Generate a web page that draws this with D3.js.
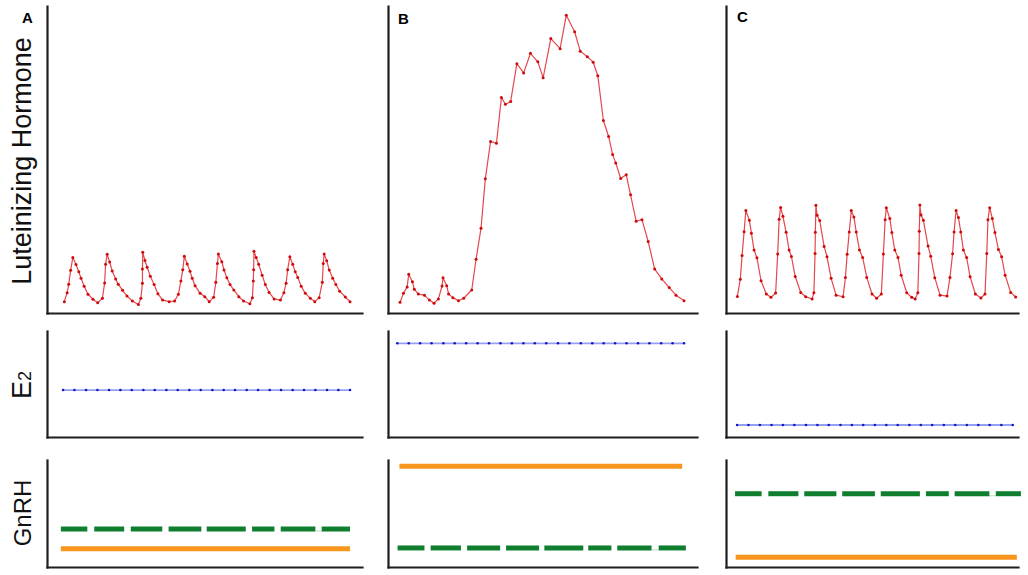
<!DOCTYPE html>
<html><head><meta charset="utf-8">
<script src="https://cdn.jsdelivr.net/npm/d3@7"></script>
<style>
html,body{margin:0;padding:0;background:#fff;}
svg{display:block;font-family:"Liberation Sans",Arial,Helvetica,sans-serif;}
</style></head>
<body>
<script>
// ---------- DATA (time in % of panel span, levels in arbitrary units 0-100) ----------
const panelNames = ["A", "B", "C"];
const rowLabels = ["Luteinizing Hormone", "E", "GnRH"];

const lhTimeA = [5.5,6.4,6.9,7.5,8.2,9.2,10.1,10.8,11.8,13.0,14.6,16.1,
 17.6,18.3,18.6,19.1,19.9,20.7,21.8,22.6,24.0,25.4,27.1,29.0,
 29.8,30.3,30.3,30.4,31.1,31.8,32.8,34.0,35.2,36.7,38.8,
 40.5,41.7,42.5,43.1,43.6,44.5,45.4,46.1,47.0,48.6,50.1,51.5,
 52.9,53.6,54.1,54.4,55.5,56.2,57.1,58.1,59.3,60.9,62.4,64.4,
 65.2,65.5,65.6,65.7,66.4,67.2,68.3,69.3,70.5,72.1,74.1,
 75.2,75.9,76.4,77.1,78.0,78.8,79.6,80.7,82.0,83.6,85.0,
 86.4,87.4,87.7,88.0,88.8,89.6,90.7,91.7,92.9,94.7,96.2];
const lhValueA = [3.7,6.6,9.4,13.9,18.1,15.8,13.4,11.3,8.7,6.1,4.5,3.3,
 4.8,9.8,15.9,19.1,16.6,13.7,11.1,9.4,7.4,5.5,3.9,2.8,
 4.8,9.7,14.3,19.8,17.1,14.9,12.0,9.3,6.3,4.2,3.7,
 3.9,6.1,10.4,14.1,18.5,16.0,13.6,11.3,8.9,6.4,5.3,3.7,
 5.1,10.0,16.1,19.2,16.7,14.0,11.5,9.3,7.5,5.3,3.9,3.0,
 5.0,10.4,14.1,20.1,18.1,15.9,12.3,9.3,6.7,4.6,4.2,
 6.6,9.7,14.1,18.3,15.9,13.4,11.6,8.7,6.4,4.8,3.7,
 5.0,10.0,16.1,19.2,17.0,14.0,11.3,9.3,7.1,5.2,3.7];

const lhTimeB = [3.9,5.0,6.2,6.7,7.9,8.5,9.8,11.8,13.4,14.9,
 16.3,17.5,17.8,19.0,19.6,21.0,22.8,24.5,27.1,28.5,
 30.1,31.5,33.2,35.1,36.7,38.0,39.7,41.7,43.9,46.1,
 48.5,50.2,52.7,55.7,57.7,60.4,62.2,64.5,66.4,67.9,
 69.7,71.4,72.7,73.7,75.3,77.1,78.5,80.3,82.2,84.2,
 86.3,88.6,91.0,93.2,95.8];
const lhValueB = [3.5,6.4,8.5,12.6,10.2,7.7,6.2,5.8,4.2,3.2,
 4.6,8.8,11.5,8.9,6.2,5.0,4.0,4.8,7.5,17.5,
 27.6,43.7,55.9,55.3,70.2,68.0,68.9,81.2,78.2,84.6,
 81.8,76.6,89.4,86.1,97.0,91.6,85.3,83.5,81.7,77.3,
 62.7,57.5,51.6,48.9,43.8,45.0,38.5,29.9,30.4,23.3,
 14.3,11.1,8.3,5.8,4.0];

const lhTimeC = [3.9,4.9,5.5,6.2,6.8,8.0,8.7,9.6,10.6,12.0,13.8,15.4,
 17.0,17.7,18.2,18.7,19.5,20.6,21.6,22.4,23.7,25.6,27.3,29.5,
 30.1,30.5,30.6,30.8,31.2,32.1,33.6,34.6,36.0,37.7,40.1,
 40.9,41.5,42.2,42.9,43.8,44.6,45.7,46.8,48.2,50.0,51.6,
 53.2,53.9,54.5,54.9,56.1,56.8,57.8,58.9,60.0,61.9,63.6,64.8,
 65.7,66.1,66.2,66.4,66.8,67.6,69.2,70.1,71.5,73.3,75.7,
 76.7,77.6,78.1,78.8,79.6,80.4,81.3,82.4,83.6,85.4,87.3,
 88.7,89.3,89.7,90.3,91.2,92.1,93.3,94.4,95.6,97.5,99.2];
const lhValueC = [5.4,11.0,18.7,26.5,33.4,30.2,26.0,20.5,18.0,10.5,6.2,5.1,
 6.5,19.2,30.5,34.4,31.5,26.3,20.5,18.4,11.9,6.7,5.3,4.6,
 6.6,19.4,26.3,35.1,31.8,30.1,21.7,18.3,11.3,5.8,5.3,
 11.6,19.1,26.4,33.4,31.3,26.4,20.5,18.1,11.6,6.2,4.8,
 6.2,19.2,30.4,34.3,30.8,26.2,20.5,18.1,12.3,6.6,5.1,4.6,
 6.6,19.4,26.6,35.2,31.9,30.2,21.8,18.5,11.5,5.8,5.5,
 11.6,19.3,26.4,33.4,31.1,26.4,20.5,18.1,11.8,6.2,4.9,
 6.2,19.4,30.4,34.3,30.8,26.2,20.7,18.3,12.3,6.7,5.2];

const e2TimeA = [5.1,8.7,12.4,16.0,19.7,23.3,26.9,30.6,34.2,37.9,41.5,45.2,48.8,
 52.5,56.1,59.7,63.4,67.0,70.7,74.3,78.0,81.6,85.2,88.9,92.5,96.2];
const e2TimeB = [3.0,6.7,10.4,14.1,17.9,21.6,25.3,29.0,32.7,36.4,40.1,43.8,47.5,
 51.2,55.0,58.7,62.4,66.1,69.8,73.5,77.2,80.9,84.6,88.4,92.1,95.8];
const e2TimeC = [3.8,7.7,11.6,15.6,19.5,23.4,27.4,31.3,35.2,39.2,43.1,47.0,
 51.0,54.9,58.8,62.8,66.7,70.6,74.6,78.5,82.5,86.4,90.3,94.3,98.2];
const e2Level = [44.3, 88.4, 11.3];

const orangeLevel = [17.1, 94.1, 9.1];
const orangeSpan = [[4.4, 96.2], [3.7, 95.2], [3.3, 99.6]];
const greenLevel = [35.5, 17.8, 68.5];
const greenSegA = [[4.4,12.8],[15.0,24.5],[26.6,36.6],[38.6,49.0],[50.7,63.1],[65.1,72.2],[74.2,85.2],[87.2,96.2]];
const greenSegB = [[3.1,11.8],[13.8,23.6],[25.6,36.3],[38.2,48.9],[50.6,63.2],[64.8,72.3],[74.2,85.3],[87.6,96.4]];
const greenSegC = [[3.1,12.2],[14.5,24.8],[26.8,37.8],[39.8,51.0],[53.0,66.4],[68.5,76.3],[78.3,90.2],[92.4,101.0]];
const greenFaint = [[85.2,87.2],[85.3,87.6],[90.2,92.4]];

// ---------- LAYOUT ----------
const W = 1028, H = 575;
const panelX = [[47, 362], [388, 697], [726, 1018]];
const rowY = {lh: [313, 6], e2: [437, 331], gn: [567, 460]};
const letterPos = [[22, 23], [398, 24], [737, 22]];

const lhT = [lhTimeA, lhTimeB, lhTimeC];
const lhV = [lhValueA, lhValueB, lhValueC];
const e2T = [e2TimeA, e2TimeB, e2TimeC];
const gSeg = [greenSegA, greenSegB, greenSegC];

const svg = d3.select("body").append("svg").attr("width", W).attr("height", H);
svg.append("rect").attr("width", W).attr("height", H).attr("fill", "#fff");

const RED_LINE = "#e5474c", RED_DOT = "#cf0a0a";
const BLUE_LINE = "#95a0ee", BLUE_DOT = "#1515c8";
const GREEN = "#0f7e2e", ORANGE = "#f7951c";

function drawAxes(g, x, y, xr, yr) {
  const ax = g.append("g").attr("transform", `translate(0,${yr[0]})`)
    .call(d3.axisBottom(x).tickValues([]).tickSizeOuter(0));
  const ay = g.append("g").attr("transform", `translate(${xr[0]},0)`)
    .call(d3.axisLeft(y).tickValues([]).tickSizeOuter(0));
  [ax, ay].forEach(a => a.select(".domain").attr("stroke", "#1e1e1e")
    .attr("stroke-width", 2.2).attr("stroke-linecap", "square"));
}

panelNames.forEach((name, i) => {
  const g = svg.append("g");
  const xr = panelX[i];
  const x = d3.scaleLinear().domain([0, 100]).range(xr);
  const yLH = d3.scaleLinear().domain([0, 100]).range(rowY.lh);
  const yE2 = d3.scaleLinear().domain([0, 100]).range(rowY.e2);
  const yGn = d3.scaleLinear().domain([0, 100]).range(rowY.gn);

  drawAxes(g, x, yLH, xr, rowY.lh);
  drawAxes(g, x, yE2, xr, rowY.e2);
  drawAxes(g, x, yGn, xr, rowY.gn);

  // LH
  const lh = lhT[i].map((t, k) => ({t, v: lhV[i][k]}));
  g.append("path").datum(lh)
    .attr("d", d3.line().x(d => x(d.t)).y(d => yLH(d.v)))
    .attr("fill", "none").attr("stroke", RED_LINE).attr("stroke-width", 1.2)
    .attr("stroke-linejoin", "round");
  g.selectAll(".lhdot").data(lh).enter().append("circle")
    .attr("cx", d => x(d.t)).attr("cy", d => yLH(d.v)).attr("r", 1.5)
    .attr("fill", RED_DOT);

  // E2
  const e2 = e2T[i].map(t => ({t, v: e2Level[i]}));
  g.append("path").datum(e2)
    .attr("d", d3.line().x(d => x(d.t)).y(d => yE2(d.v)))
    .attr("fill", "none").attr("stroke", BLUE_LINE).attr("stroke-width", 1.8);
  g.selectAll(".e2dot").data(e2).enter().append("circle")
    .attr("cx", d => x(d.t)).attr("cy", d => yE2(d.v)).attr("r", 1.3)
    .attr("fill", BLUE_DOT);

  // GnRH
  g.append("line")
    .attr("x1", x(orangeSpan[i][0])).attr("x2", x(orangeSpan[i][1]))
    .attr("y1", yGn(orangeLevel[i])).attr("y2", yGn(orangeLevel[i]))
    .attr("stroke", ORANGE).attr("stroke-width", 5);
  g.append("line")
    .attr("x1", x(greenFaint[i][0])).attr("x2", x(greenFaint[i][1]))
    .attr("y1", yGn(greenLevel[i]) + 2).attr("y2", yGn(greenLevel[i]) + 2)
    .attr("stroke", "#b9dcc0").attr("stroke-width", 1);
  g.selectAll(".gseg").data(gSeg[i]).enter().append("line")
    .attr("x1", d => x(d[0])).attr("x2", d => x(d[1]))
    .attr("y1", yGn(greenLevel[i])).attr("y2", yGn(greenLevel[i]))
    .attr("stroke", GREEN).attr("stroke-width", 5);

  // panel letter
  svg.append("text").attr("x", letterPos[i][0]).attr("y", letterPos[i][1])
    .attr("font-size", 15).attr("font-weight", "bold").attr("fill", "#000")
    .text(name);
});

// Row labels
svg.append("text")
  .attr("transform", "translate(31,161) rotate(-90)")
  .attr("text-anchor", "middle").attr("font-size", 27).attr("fill", "#111")
  .text(rowLabels[0]);
const e2Label = svg.append("text")
  .attr("transform", "translate(31,385) rotate(-90)")
  .attr("text-anchor", "middle").attr("font-size", 27).attr("fill", "#111");
e2Label.append("tspan").text(rowLabels[1]);
e2Label.append("tspan").attr("font-size", 18).text("2");
svg.append("text")
  .attr("transform", "translate(31,513) rotate(-90)")
  .attr("text-anchor", "middle").attr("font-size", 24).attr("fill", "#111")
  .text(rowLabels[2]);
</script>
</body></html>
